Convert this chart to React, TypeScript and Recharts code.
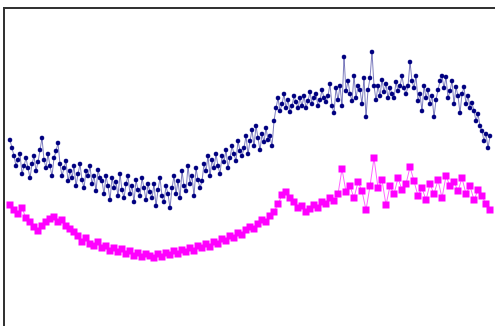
import { LineChart, Line, XAxis, YAxis } from "recharts";

// heights above the bottom edge; navy sampled every step, magenta every second step
const navy = [
  186, 178, 170, 160, 166, 172, 152, 160, 168, 158, 148, 162, 170, 155, 164, 176, 188, 166, 158, 172,
  160, 150, 168, 175, 183, 162,
  150, 158, 165, 145, 155, 148, 160, 140, 152, 162, 146, 138, 155, 150, 160, 142, 150, 135, 156, 148,
  145, 132, 150, 140, 126, 148, 138, 144, 130, 152, 136, 128, 142, 150, 132, 140, 124, 146, 136, 130,
  148, 138, 126, 142, 134,
  128, 142, 120, 136, 148, 130, 124, 140, 132, 118, 138,
  150, 132, 145, 128, 155, 140, 135, 160, 142, 150, 130, 158, 146, 138,
  145, 162, 155, 170, 150, 166, 158, 172, 160, 152, 170, 164, 176, 158, 168, 180, 172, 165, 185, 175,
  170,
  178, 190, 172, 185, 196, 180, 200, 188, 176, 192, 184, 198, 186, 190, 180,
  205, 218, 228, 215, 222, 232, 218, 226, 214, 220, 230, 224, 218, 228,
  220, 230, 218, 225, 234, 222, 228, 232, 220, 226, 236, 228, 224,
  230, 242, 220, 213, 238, 226, 240, 220, 269, 235,
  245, 232, 225, 250, 228, 240, 236, 222, 248, 209, 236, 248, 274, 240,
  226, 240, 230, 246, 234, 242, 228, 238, 232, 228, 244, 235, 240, 250, 238, 232,
  240, 264, 245, 238, 250, 225, 232, 215, 240, 228, 236, 222, 230, 209, 226, 236, 245,
  250, 238, 249, 228, 235, 245, 222, 239, 230, 213, 232, 239, 222, 230, 218,
  223, 215, 205, 212, 200, 195, 185, 192, 178, 190,
];

const magenta = [
  121, 116, 112, 118, 108, 104, 99, 95, 100, 104,
  107, 109, 104, 106, 100, 97, 94, 90, 84, 88,
  82, 80, 84, 78, 80, 75, 78, 74, 77, 72,
  75, 70, 73, 69, 72, 70, 68, 72, 69, 73,
  71, 75, 72, 76, 74, 78, 75, 80, 78, 82,
  79, 84, 82, 87, 85, 90, 88, 93, 91, 96,
  99, 97, 102, 106, 104, 110, 114, 122, 131, 134,
  128, 124, 118, 120, 114, 117, 121, 118, 124, 122,
  128, 125, 132, 157, 134, 140, 128, 144, 135, 116,
  140, 168, 138, 146, 121, 140, 132, 148, 136, 142,
  159, 145, 130, 138, 126, 142, 132, 146, 128, 150,
  140, 144, 135, 148, 132, 140, 126, 136, 130, 122,
  116,
];

const navyT = navy.map((_, i) => i);
const magentaT = magenta.map((_, k) => k * 2);

const navyData = navyT.map((t, i) => ({ t, v: navy[i] }));
const magentaData = magentaT.map((t, k) => ({ t, v: magenta[k] }));

const Square = (props: any) => {
  const { cx, cy, index } = props;
  if (cx == null || cy == null) return null;
  return <rect key={`sq-${index}`} x={cx - 3.5} y={cy - 3.5} width={7} height={7} fill="#ff00ff" />;
};

export default function App() {
  return (
    <div style={{ position: "absolute", left: 0, top: 0, width: 495, height: 326, overflow: "hidden", background: "#fff" }}>
      <div
        style={{
          position: "absolute",
          left: 3,
          top: 7,
          width: 600,
          height: 400,
          border: "2px solid #333",
        }}
      />
      <div style={{ position: "absolute", left: 0, top: 0 }}>
        <LineChart width={495} height={326} margin={{ top: 0, right: 5, bottom: 0, left: 10 }}>
          <XAxis type="number" dataKey="t" domain={[0, navyT.length - 1]} hide />
          <YAxis type="number" domain={[0, 326]} hide />
          <Line
            data={magentaData}
            dataKey="v"
            stroke="#ff00ff"
            strokeWidth={1}
            strokeOpacity={0.6}
            dot={Square}
            isAnimationActive={false}
          />
          <Line
            data={navyData}
            dataKey="v"
            stroke="#000080"
            strokeWidth={1}
            strokeOpacity={0.5}
            dot={{ r: 2.2, fill: "#000080", stroke: "#000080", strokeWidth: 0.5 }}
            isAnimationActive={false}
          />
        </LineChart>
      </div>
    </div>
  );
}
